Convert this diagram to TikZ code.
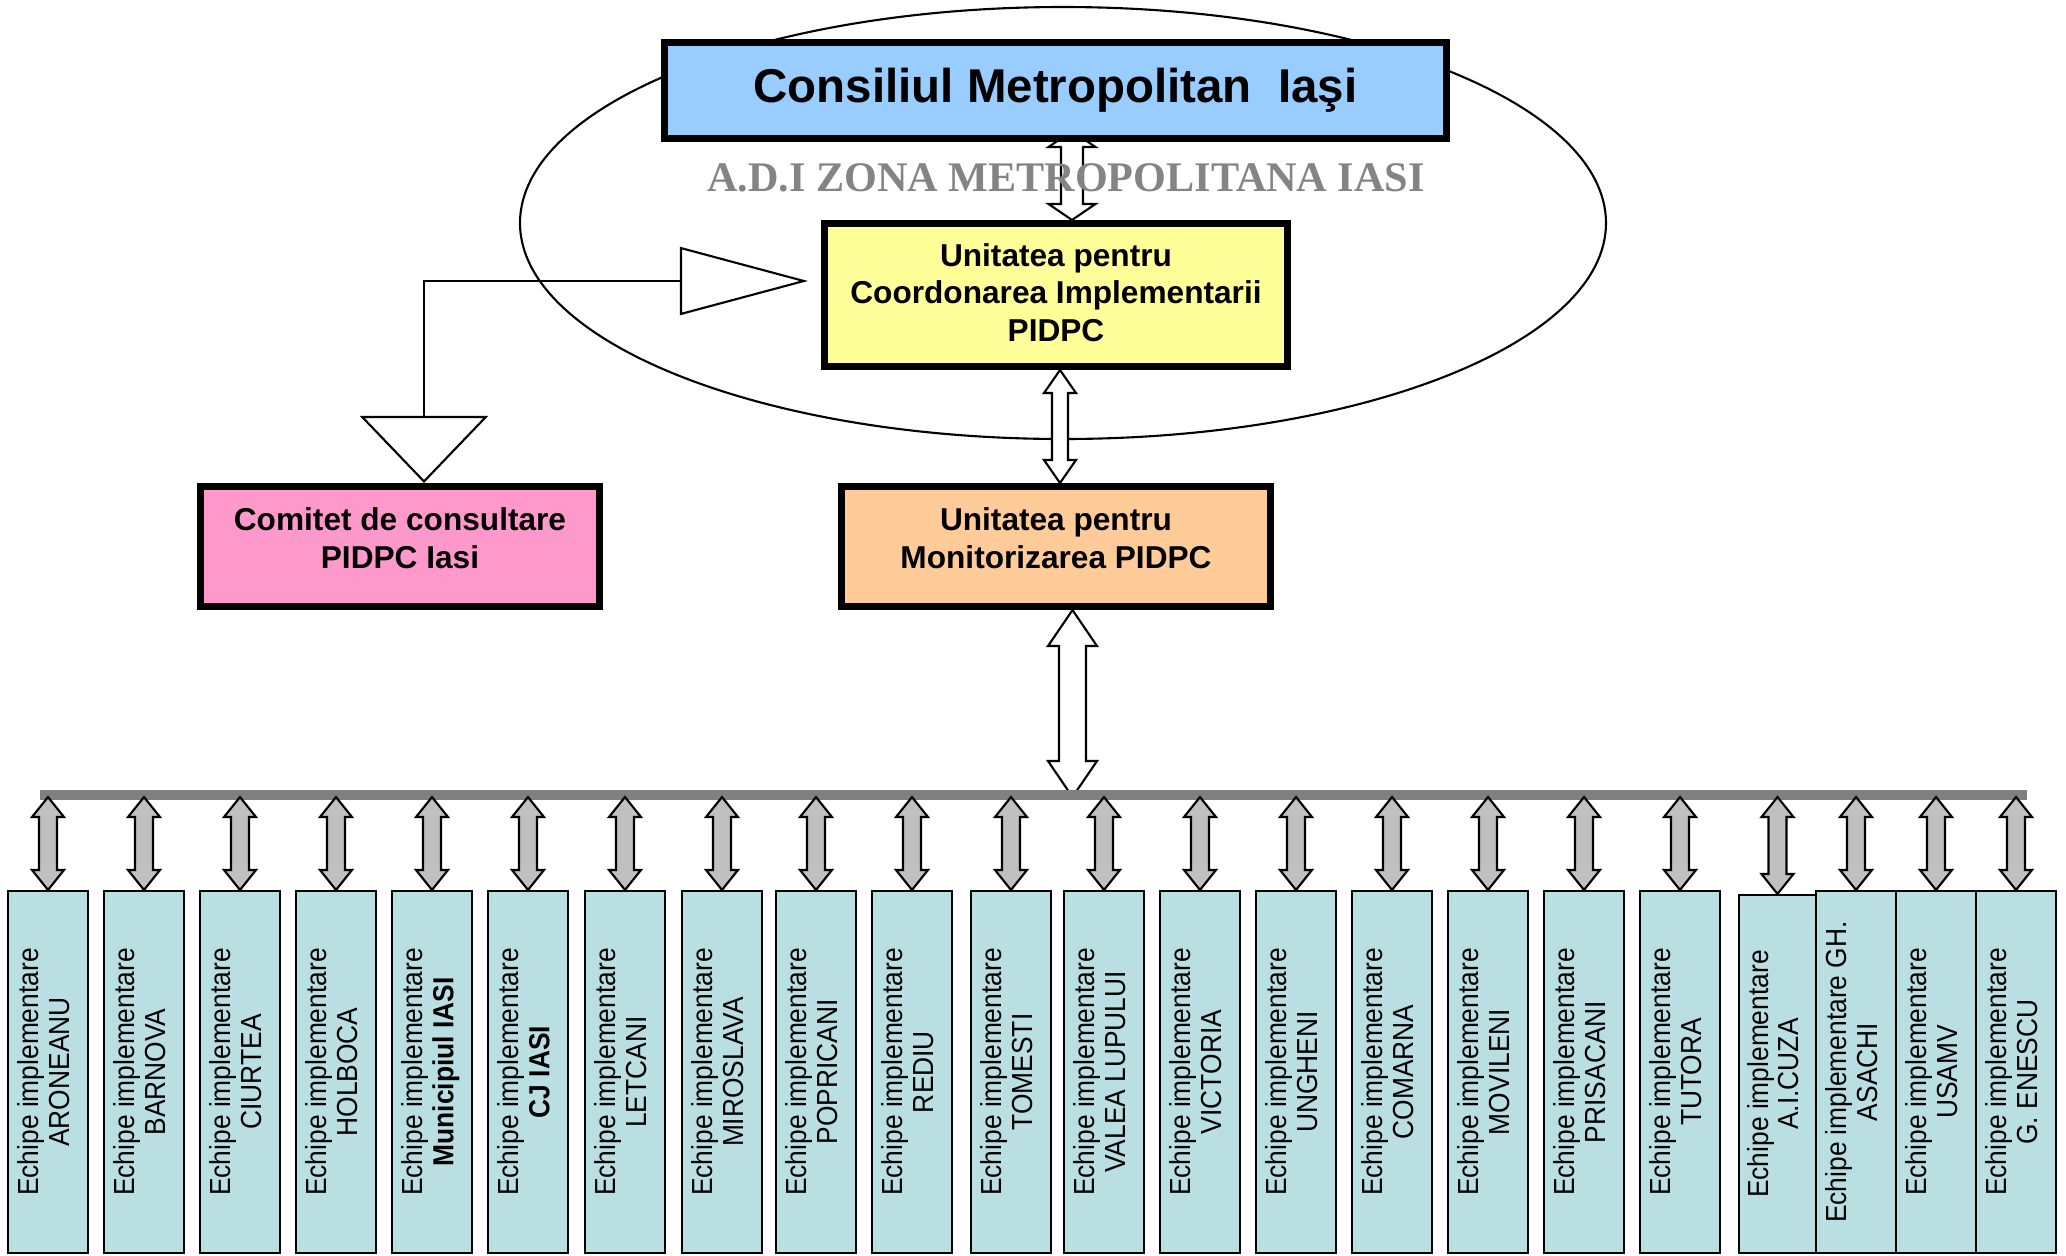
\documentclass[tikz,border=0pt]{standalone}
\usepackage{fontspec}
\setmainfont{Liberation Sans}
\newfontfamily\adiserif{Liberation Serif}
\usetikzlibrary{arrows.meta,calc,backgrounds}
\definecolor{consblue}{HTML}{99CCFF}
\definecolor{ucipyellow}{HTML}{FFFF99}
\definecolor{comitpink}{HTML}{FF99CC}
\definecolor{umonorange}{HTML}{FFCC99}
\definecolor{teamcyan}{HTML}{B9DFE2}
\definecolor{adigray}{HTML}{848484}
\definecolor{busgray}{HTML}{808080}
\definecolor{linkgray}{HTML}{C0C0C0}
\tikzset{
  unitbox/.style={
    draw=black,
    line width=2pt,
    align=center,
    inner sep=2pt,
    font=\bfseries\fontsize{9}{10.8}\selectfont
  },
  teambox/.style={
    draw=black,
    line width=0.6pt,
    fill=teamcyan,
    minimum width=8mm,
    minimum height=36.2mm,
    inner sep=0pt,
    font=\fontsize{7.5}{7.9}\selectfont
  },
  twoway/.style={draw=black, line width=0.6pt, fill=white},
  teamlink/.style={draw=black, line width=0.6pt, fill=linkgray},
  busline/.style={busgray, line width=1mm},
  feed/.style={line width=0.6pt,
    {Triangle[fill=white, length=6.7mm, width=12.8mm]}-{Triangle[fill=white, length=12.8mm, width=6.8mm]}}
}
% vertical block arrow with two heads: style, top, bottom, shaft half, head half, head length
\newcommand{\twowayarrow}[6]{\path[#1] let \p1=#2, \p2=#3 in
  (\x1,\y1) -- (\x1+#5,\y1-#6) -- (\x1+#4,\y1-#6) -- (\x1+#4,\y2+#6) -- (\x1+#5,\y2+#6) -- (\x1,\y2)
  -- (\x1-#5,\y2+#6) -- (\x1-#4,\y2+#6) -- (\x1-#4,\y1-#6) -- (\x1-#5,\y1-#6) -- cycle;}
\newcommand{\teamarrow}[1]{\twowayarrow{teamlink}{(#1.north |- bar)}{(#1.north)}{0.09cm}{0.16cm}{0.2cm}}
\newcommand{\teamtext}[1]{\rotatebox{90}{\scalebox{1}[1.1]{\begin{tabular}{@{}c@{}}#1\end{tabular}}}}

\begin{document}
\begin{tikzpicture}
  \useasboundingbox (0,0) rectangle (20.66,-12.55);
  \node[unitbox, fill=consblue, minimum width=78.2mm, minimum height=9.6mm,
        font=\bfseries\fontsize{13.5}{16}\selectfont] (cons) at (10.555,-0.905) {Consiliul Metropolitan\ \ Iaşi};
  \node[unitbox, fill=ucipyellow, minimum width=46.3mm, minimum height=14.3mm, text depth=0.05cm] (ucip) at (10.56,-2.95) {Unitatea pentru\\Coordonarea Implementarii\\PIDPC};
  \node[unitbox, fill=comitpink, minimum width=39.9mm, minimum height=12mm, text depth=0.17cm] (comit) at (4.00,-5.465) {Comitet de consultare\\PIDPC Iasi};
  \node[unitbox, fill=umonorange, minimum width=42.9mm, minimum height=12mm, text depth=0.17cm] (umon) at (10.56,-5.465) {Unitatea pentru\\Monitorizarea PIDPC};
  \node[font=\adiserif\bfseries\fontsize{12}{14}\selectfont, text=adigray] (adi) at (10.66,-1.78) {A.D.I ZONA METROPOLITANA IASI};
  \coordinate (bar) at (0,-7.97);
  \coordinate (bus-w) at (0.40,-7.95);
  \coordinate (bus-e) at (20.27,-7.95);

  \begin{scope}[on background layer]
    \draw[line width=0.6pt] (10.63,-2.23) ellipse [x radius=5.43, y radius=2.16];
    \twowayarrow{twoway}{($(cons.south)+(0.165,0.11)$)}{($(ucip.north)+(0.165,0)$)}{0.11cm}{0.235cm}{0.16cm}
    \twowayarrow{twoway}{($(ucip.south)+(0.04,0)$)}{($(umon.north)+(0.04,0)$)}{0.08cm}{0.16cm}{0.23cm}
  \end{scope}
  \twowayarrow{twoway}{($(umon.south)+(0.165,0)$)}{($(umon.south |- bar)+(0.165,0)$)}{0.135cm}{0.245cm}{0.36cm}
  \draw[feed] ($(comit.north)+(0.24,0)$) |- ($(ucip.west)+(-0.13,0.14)$);

  \draw[busline] (bus-w) -- (bus-e);
  \node[teambox] (t1) at (0.48,-10.72) {\teamtext{Echipe implementare\\ARONEANU}};
  \node[teambox] (t2) at (1.44,-10.72) {\teamtext{Echipe implementare\\BARNOVA}};
  \node[teambox] (t3) at (2.40,-10.72) {\teamtext{Echipe implementare\\CIURTEA}};
  \node[teambox] (t4) at (3.36,-10.72) {\teamtext{Echipe implementare\\HOLBOCA}};
  \node[teambox] (t5) at (4.32,-10.72) {\teamtext{Echipe implementare\\\textbf{Municipiul IASI}}};
  \node[teambox] (t6) at (5.28,-10.72) {\teamtext{Echipe implementare\\\textbf{CJ IASI}}};
  \node[teambox] (t7) at (6.25,-10.72) {\teamtext{Echipe implementare\\LETCANI}};
  \node[teambox] (t8) at (7.22,-10.72) {\teamtext{Echipe implementare\\MIROSLAVA}};
  \node[teambox] (t9) at (8.16,-10.72) {\teamtext{Echipe implementare\\POPRICANI}};
  \node[teambox] (t10) at (9.12,-10.72) {\teamtext{Echipe implementare\\REDIU}};
  \node[teambox] (t11) at (10.11,-10.72) {\teamtext{Echipe implementare\\TOMESTI}};
  \node[teambox] (t12) at (11.04,-10.72) {\teamtext{Echipe implementare\\VALEA LUPULUI}};
  \node[teambox] (t13) at (12.00,-10.72) {\teamtext{Echipe implementare\\VICTORIA}};
  \node[teambox] (t14) at (12.96,-10.72) {\teamtext{Echipe implementare\\UNGHENI}};
  \node[teambox] (t15) at (13.92,-10.72) {\teamtext{Echipe implementare\\COMARNA}};
  \node[teambox] (t16) at (14.88,-10.72) {\teamtext{Echipe implementare\\MOVILENI}};
  \node[teambox] (t17) at (15.84,-10.72) {\teamtext{Echipe implementare\\PRISACANI}};
  \node[teambox] (t18) at (16.80,-10.72) {\teamtext{Echipe implementare\\TUTORA}};
  \node[teambox, minimum width=7.7mm, minimum height=35.8mm] (t19) at (17.775,-10.74) {\teamtext{Echipe implementare\\A.I.CUZA}};
  \node[teambox] (t20) at (18.56,-10.72) {\teamtext{Echipe implementare GH.\\ASACHI}};
  \node[teambox] (t21) at (19.36,-10.72) {\teamtext{Echipe implementare\\USAMV}};
  \node[teambox] (t22) at (20.16,-10.72) {\teamtext{Echipe implementare\\G. ENESCU}};
  \teamarrow{t1} \teamarrow{t2} \teamarrow{t3} \teamarrow{t4} \teamarrow{t5} \teamarrow{t6}
  \teamarrow{t7} \teamarrow{t8} \teamarrow{t9} \teamarrow{t10} \teamarrow{t11}
  \teamarrow{t12} \teamarrow{t13} \teamarrow{t14} \teamarrow{t15} \teamarrow{t16}
  \teamarrow{t17} \teamarrow{t18} \teamarrow{t19} \teamarrow{t20} \teamarrow{t21} \teamarrow{t22}
\end{tikzpicture}
\end{document}
